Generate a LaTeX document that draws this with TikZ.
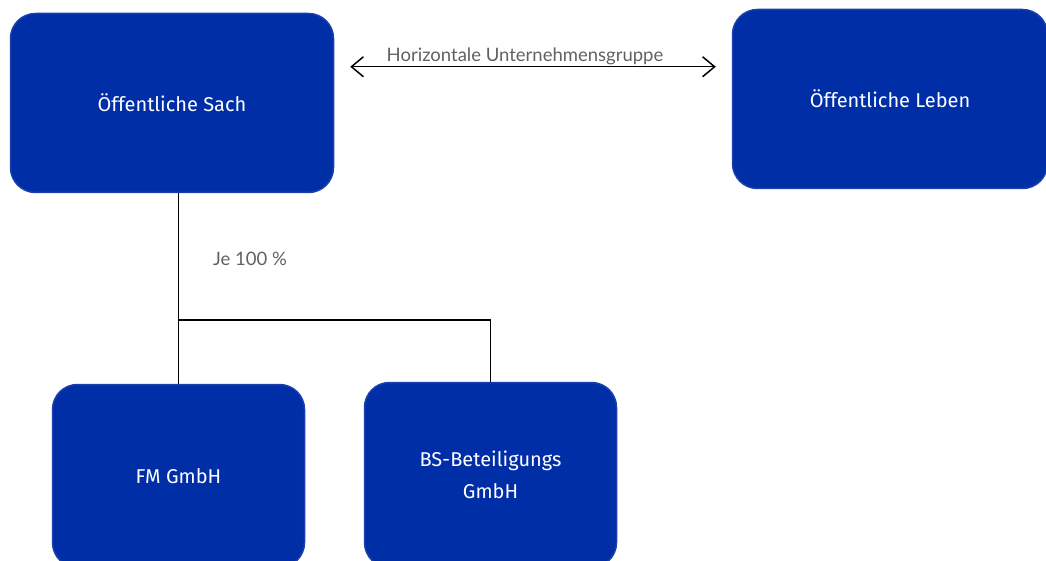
\documentclass[tikz,border=0pt]{standalone}
\usepackage{fontspec}
\setmainfont{Fira Sans}
\newfontfamily\labelfont{Lato}
\usetikzlibrary{arrows.meta,calc,positioning,shapes}
\definecolor{sparblue}{rgb}{0.0, 0.18, 0.65}
\definecolor{sparedge}{rgb}{0.10, 0.25, 0.68}
\definecolor{labelgray}{rgb}{0.38, 0.38, 0.38}
\tikzstyle{company} = [rectangle, rounded corners=25pt, draw=sparedge, line width=1.5pt, fill=sparblue, text=white, align=center, font=\fontsize{20}{32}\selectfont]
\tikzstyle{link} = [line width=1.5pt, black]
\tikzstyle{note} = [text=labelgray, font=\labelfont\fontsize{18.5}{22}\selectfont]

\begin{document}
\begin{tikzpicture}[x=1pt,y=-1pt]
\useasboundingbox (0,0) rectangle (1046,561);
\node (sach) at (172,103) [company, minimum width=323pt, minimum height=179pt] {Öffentliche Sach};
\node (leben) at (890,99) [company, minimum width=315pt, minimum height=179pt] {Öffentliche Leben};
\node (fm) at (178.5,476) [company, minimum width=252pt, minimum height=183pt] {FM GmbH};
\node (bs) at (490.5,475) [company, minimum width=252pt, minimum height=185pt] {BS-Beteiligungs\\GmbH};
%\draw[dashed] (sach)--(leben);
\coordinate (hl) at ($(sach.north east)+(16,54)$);
\coordinate (hr) at ($(leben.north west)+(-16,58)$);
\draw[link, {Straight Barb[length=12pt,width=20pt]}-{Straight Barb[length=12pt,width=20pt]}] (hl) -- (hr) node[note, midway, above=-2pt, xshift=-8pt] (horiz) {Horizontale Unternehmensgruppe};
\coordinate (split) at (178,320);
\draw[link] (fm.north) -- (fm.north |- sach.south);
\draw[link] (split) -| (bs.north);
\node (je) at (250,259) [note] {Je 100 \%};
\end{tikzpicture}
\end{document}
